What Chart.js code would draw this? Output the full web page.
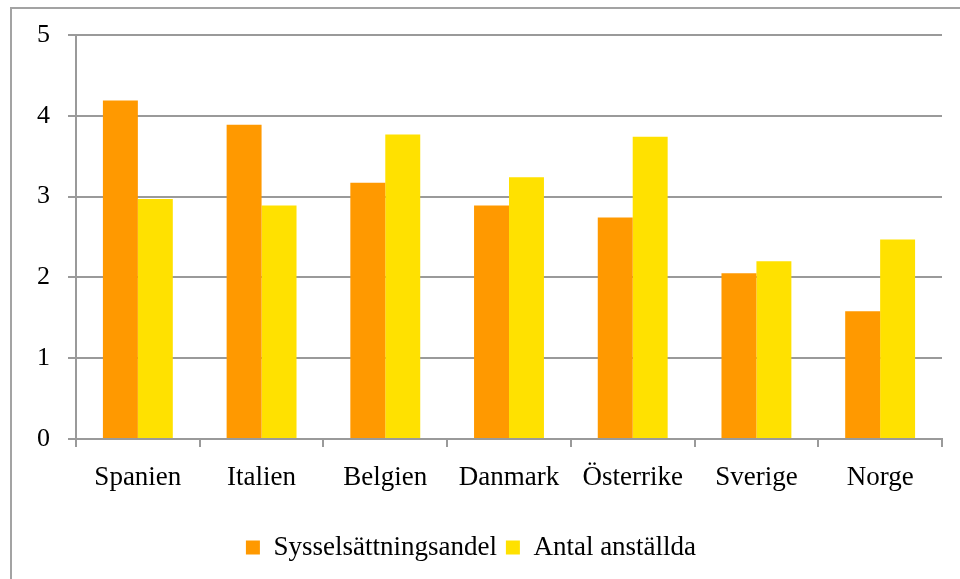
<!DOCTYPE html>
<html lang="sv">
<head>
<meta charset="UTF-8">
<title>Sysselsättning</title>
<script src="https://cdn.jsdelivr.net/npm/chart.js"></script>
<style>
  body { margin: 0; background: #fff; }
  #wrap { position: relative; width: 960px; height: 579px; overflow: hidden; }
  #frame { position: absolute; left: 10px; top: 7px; width: 1000px; height: 620px; border: 2px solid #a3a3a3; }
  #chart { position: absolute; left: 0; top: 0; }
</style>
</head>
<body>
<div id="wrap">
  <div id="frame"></div>
  <canvas id="chart" width="960" height="579"></canvas>
</div>

<script>
// chart data
const countries = ['Spanien', 'Italien', 'Belgien', 'Danmark', 'Österrike', 'Sverige', 'Norge'];
const sysselsattningsandel = [4.19, 3.89, 3.17, 2.89, 2.74, 2.05, 1.58];
const antalAnstallda = [2.97, 2.89, 3.77, 3.24, 3.74, 2.20, 2.47];
const yTicks = [0, 1, 2, 3, 4, 5];

const gridGray = '#9a9a9a';
const serif = "'Liberation Serif', 'Times New Roman', serif";

new Chart(document.getElementById('chart'), {
  type: 'bar',
  data: {
    labels: countries,
    datasets: [
      {
        label: 'Sysselsättningsandel',
        data: sysselsattningsandel,
        backgroundColor: '#ff9900',
        borderWidth: 0,
        categoryPercentage: 0.565,
        barPercentage: 1.0
      },
      {
        label: 'Antal anställda',
        data: antalAnstallda,
        backgroundColor: '#ffe100',
        borderWidth: 0,
        categoryPercentage: 0.565,
        barPercentage: 1.0
      }
    ]
  },
  options: {
    responsive: false,
    animation: false,
    layout: { padding: { left: 0, right: 18, top: 35, bottom: 8 } },
    plugins: {
      tooltip: { enabled: false },
      legend: {
        position: 'bottom',
        labels: {
          boxWidth: 14,
          boxHeight: 14,
          padding: 9,
          color: '#000',
          font: { family: serif, size: 27 }
        }
      }
    },
    scales: {
      x: {
        grid: { drawOnChartArea: false, drawTicks: true, tickLength: 8, color: gridGray, lineWidth: 2 },
        border: { display: true, color: gridGray, width: 2 },
        ticks: { color: '#000', padding: 15, font: { family: serif, size: 27 } },
        afterFit(scale) { scale.height = 86; }
      },
      y: {
        min: 0,
        max: 5,
        afterBuildTicks(scale) { scale.ticks = yTicks.map(v => ({ value: v })); },
        grid: { color: gridGray, lineWidth: 2, tickLength: 8 },
        border: { display: true, color: gridGray, width: 2 },
        ticks: { color: '#000', padding: 18, font: { family: serif, size: 26 } },
        afterFit(scale) { scale.width = 76; }
      }
    }
  }
});
</script>
</body>
</html>
